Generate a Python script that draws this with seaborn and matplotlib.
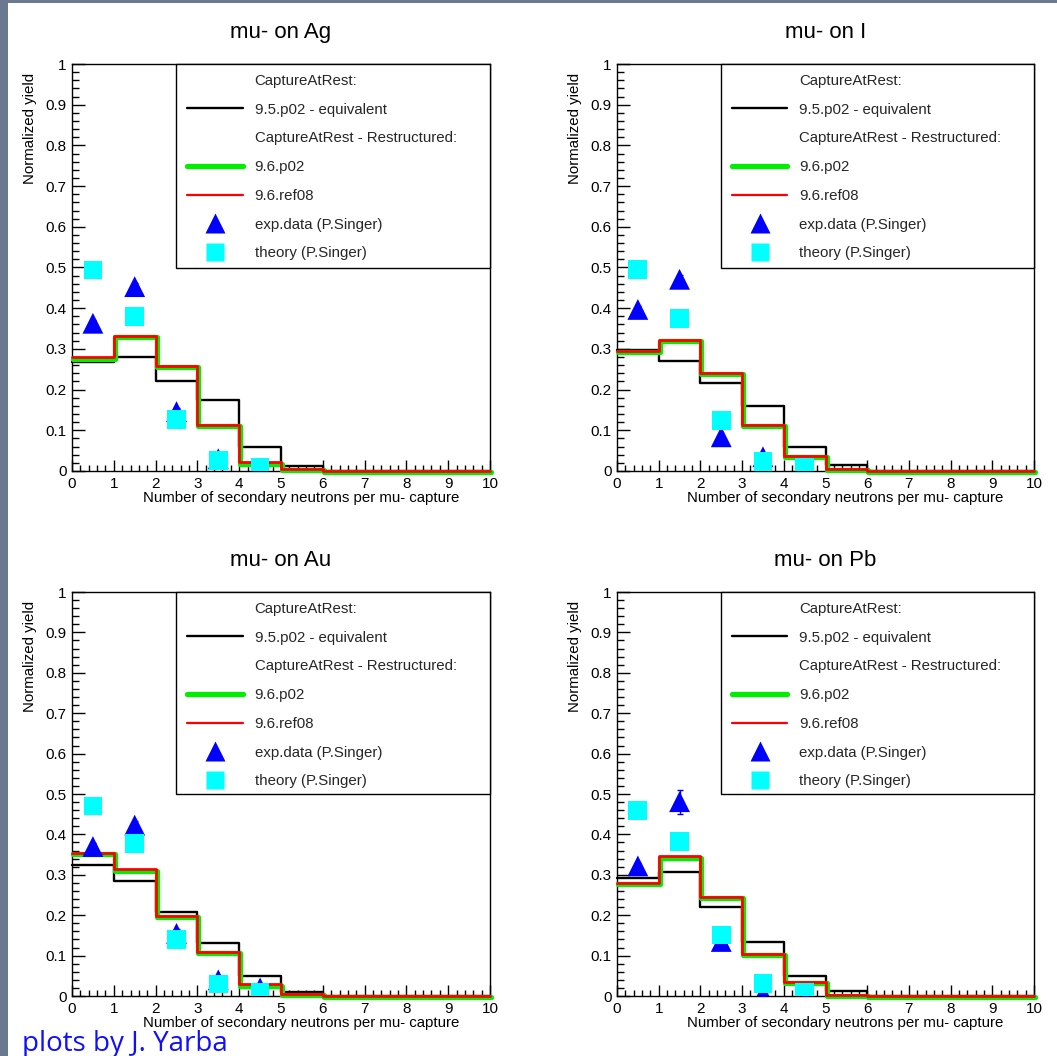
import numpy as np
import pandas as pd
import matplotlib
matplotlib.use("Agg")
import matplotlib.pyplot as plt
import matplotlib.transforms as mtransforms
from matplotlib.lines import Line2D
from matplotlib.patches import Rectangle
from matplotlib.ticker import MultipleLocator, FuncFormatter
import seaborn as sns

# ---------------- data ----------------
bin_edges = np.arange(0, 11, 1)
point_x = [0.5, 1.5, 2.5, 3.5, 4.5]

panel_titles = ["mu- on Ag", "mu- on I", "mu- on Au", "mu- on Pb"]

ag_g95_p02 = [0.269, 0.281, 0.221, 0.174, 0.060, 0.012, 0, 0, 0, 0]
ag_g96_p02 = [0.278, 0.331, 0.258, 0.112, 0.020, 0.004, 0, 0, 0, 0]
ag_g96_ref08 = [0.279, 0.332, 0.259, 0.113, 0.021, 0.004, 0, 0, 0, 0]
ag_exp = [0.363, 0.453, 0.146, 0.030, 0.005]
ag_exp_err = [0.008, 0.010, 0.010, 0.006, 0.003]
ag_theory = [0.494, 0.379, 0.127, 0.025, 0.009]

i_g95_p02 = [0.297, 0.270, 0.217, 0.160, 0.060, 0.015, 0, 0, 0, 0]
i_g96_p02 = [0.295, 0.321, 0.241, 0.112, 0.037, 0.004, 0, 0, 0, 0]
i_g96_ref08 = [0.296, 0.322, 0.242, 0.113, 0.038, 0.004, 0, 0, 0, 0]
i_exp = [0.397, 0.471, 0.084, 0.035, 0.005]
i_exp_err = [0.008, 0.010, 0.008, 0.006, 0.003]
i_theory = [0.496, 0.375, 0.124, 0.023, 0.008]

au_g95_p02 = [0.324, 0.285, 0.209, 0.130, 0.050, 0.011, 0, 0, 0, 0]
au_g96_p02 = [0.354, 0.313, 0.197, 0.109, 0.028, 0.005, 0, 0, 0, 0]
au_g96_ref08 = [0.355, 0.314, 0.198, 0.110, 0.029, 0.005, 0, 0, 0, 0]
au_exp = [0.370, 0.423, 0.155, 0.040, 0.020]
au_exp_err = [0.008, 0.010, 0.010, 0.008, 0.005]
au_theory = [0.470, 0.378, 0.140, 0.030, 0.008]

pb_g95_p02 = [0.291, 0.308, 0.221, 0.134, 0.050, 0.012, 0, 0, 0, 0]
pb_g96_p02 = [0.279, 0.345, 0.245, 0.103, 0.034, 0.003, 0, 0, 0, 0]
pb_g96_ref08 = [0.280, 0.346, 0.246, 0.104, 0.035, 0.003, 0, 0, 0, 0]
pb_exp = [0.322, 0.481, 0.135, 0.005, 0.005]
pb_exp_err = [0.008, 0.030, 0.010, 0.005, 0.005]
pb_theory = [0.460, 0.382, 0.151, 0.031, 0.008]

panels = [
    (ag_g95_p02, ag_g96_p02, ag_g96_ref08, ag_exp, ag_exp_err, ag_theory),
    (i_g95_p02, i_g96_p02, i_g96_ref08, i_exp, i_exp_err, i_theory),
    (au_g95_p02, au_g96_p02, au_g96_ref08, au_exp, au_exp_err, au_theory),
    (pb_g95_p02, pb_g96_p02, pb_g96_ref08, pb_exp, pb_exp_err, pb_theory),
]

legend_labels = ["CaptureAtRest:", "9.5.p02 - equivalent",
                 "CaptureAtRest - Restructured:", "9.6.p02", "9.6.ref08",
                 "exp.data (P.Singer)", "theory (P.Singer)"]
x_title = "Number of secondary neutrons per mu- capture"
y_title = "Normalized yield"
footer_text = "plots by J. Yarba"

# ---------------- style ----------------
sns.set_theme(style="white")
plt.rcParams["font.family"] = ["Liberation Sans", "DejaVu Sans"]

W, H = 1057, 1056
fig = plt.figure(figsize=(W / 100, H / 100), dpi=100)
fig.patch.set_facecolor("white")

# slate border strips (left / top)
border = "#6b7990"
fig.patches.append(Rectangle((0, 0), 8 / W, 1, transform=fig.transFigure,
                             facecolor=border, edgecolor="none", zorder=0))
fig.patches.append(Rectangle((0, 1 - 3 / H), 1, 3 / H, transform=fig.transFigure,
                             facecolor=border, edgecolor="none", zorder=0))

axes_rects = [
    [72 / W, 1 - 471 / H, 418 / W, 407 / H],
    [617 / W, 1 - 471 / H, 417 / W, 407 / H],
    [72 / W, 1 - 996 / H, 418 / W, 404 / H],
    [617 / W, 1 - 996 / H, 417 / W, 404 / H],
]

BLACK, GREEN, RED = "black", "#00ee00", "#ff0000"
BLUE, CYAN = "#0000ff", "#00ffff"
n_bins = len(bin_edges) - 1
centers = (bin_edges[:-1] + bin_edges[1:]) / 2


def draw_hist(ax, values, color, lw, z):
    df = pd.DataFrame({"n": centers, "w": values})
    sns.histplot(data=df, x="n", weights="w", bins=n_bins,
                 binrange=(bin_edges[0], bin_edges[-1]), element="step",
                 fill=False, color=color, linewidth=lw, ax=ax, legend=False,
                 zorder=z)
    return ax.lines[-1]


for rect, title, (g95, g96, ref08, exp, exp_err, theory) in zip(axes_rects, panel_titles, panels):
    ax = fig.add_axes(rect)
    ax.set_facecolor("white")
    ax_h_px = rect[3] * H
    green_tr = mtransforms.offset_copy(ax.transData, fig=fig, x=1.0, y=-1.0, units="dots")

    draw_hist(ax, g95, BLACK, 1.7, 2)
    gl = draw_hist(ax, g96, GREEN, 3.8, 3)
    gl.set_transform(green_tr)
    draw_hist(ax, ref08, RED, 2.0, 4)
    for ln in ax.lines:
        ln.set_clip_on(False)

    ax.errorbar(point_x, exp, yerr=exp_err, fmt="none", ecolor=BLUE,
                elinewidth=1.0, capsize=2, zorder=5)
    sns.scatterplot(x=point_x, y=exp, marker="^", s=15 ** 2, color=BLUE,
                    edgecolor="none", ax=ax, zorder=6, legend=False)
    sns.scatterplot(x=point_x, y=theory, marker="s", s=13.5 ** 2, color=CYAN,
                    edgecolor="none", ax=ax, zorder=7, legend=False)

    ax.set_xlim(0, 10)
    ax.set_ylim(0, 1)
    ax.xaxis.set_major_locator(MultipleLocator(1))
    ax.xaxis.set_minor_locator(MultipleLocator(0.2))
    ax.yaxis.set_major_locator(MultipleLocator(0.1))
    ax.yaxis.set_minor_locator(MultipleLocator(0.02))
    ax.yaxis.set_major_formatter(FuncFormatter(lambda v, p: "%g" % round(v, 3)))
    ax.xaxis.set_major_formatter(FuncFormatter(lambda v, p: "%g" % round(v, 3)))
    ax.tick_params(axis="both", which="both", direction="in", top=False, right=False,
                   left=True, bottom=True, colors="black", labelsize=11, width=1.0)
    ax.tick_params(axis="y", which="major", length=9.5, pad=4)
    ax.tick_params(axis="y", which="minor", length=5)
    ax.tick_params(axis="x", which="major", length=8, pad=4)
    ax.tick_params(axis="x", which="minor", length=4.5)
    for sp in ax.spines.values():
        sp.set_visible(True)
        sp.set_color("black")
        sp.set_linewidth(1.0)

    ax.set_title(title, fontsize=16, pad=19, color="black")
    ax.set_xlabel(x_title, fontsize=10.8, ha="right", va="center", color="black")
    ax.xaxis.set_label_coords(0.926, -0.066)
    ax.set_ylabel(y_title, fontsize=10.8, ha="right", va="bottom", color="black")
    ax.yaxis.set_label_coords(-0.084, 0.978)

    # legend box
    ax.add_patch(Rectangle((0.249, 0.5), 0.751, 0.5, transform=ax.transAxes,
                           facecolor="white", edgecolor="black", linewidth=1.0,
                           zorder=8, clip_on=False))
    handles = [
        Line2D([], [], color="none"),
        Line2D([], [], color=BLACK, linewidth=1.7),
        Line2D([], [], color="none"),
        Line2D([], [], color=GREEN, linewidth=3.8),
        Line2D([], [], color=RED, linewidth=1.6),
        Line2D([], [], color=BLUE, marker="^", linestyle="none", markersize=15,
               markeredgecolor="none"),
        Line2D([], [], color=CYAN, marker="s", linestyle="none", markersize=13.5,
               markeredgecolor="none"),
    ]
    leg = ax.legend(handles, legend_labels, loc="upper left",
                    bbox_to_anchor=(0.249 + 11 / 418, 1 - 10 / ax_h_px),
                    frameon=False, fontsize=10.8, handlelength=3.7,
                    handletextpad=0.8, labelspacing=0.98, borderpad=0.0,
                    borderaxespad=0.0, numpoints=1)
    leg.set_zorder(9)

fig.text(22 / W, 5 / H, footer_text, color="#1010ff", fontsize=20,
         family=["Open Sans", "DejaVu Sans"], ha="left", va="baseline")

fig.savefig("out.png", dpi=100, facecolor="white")
